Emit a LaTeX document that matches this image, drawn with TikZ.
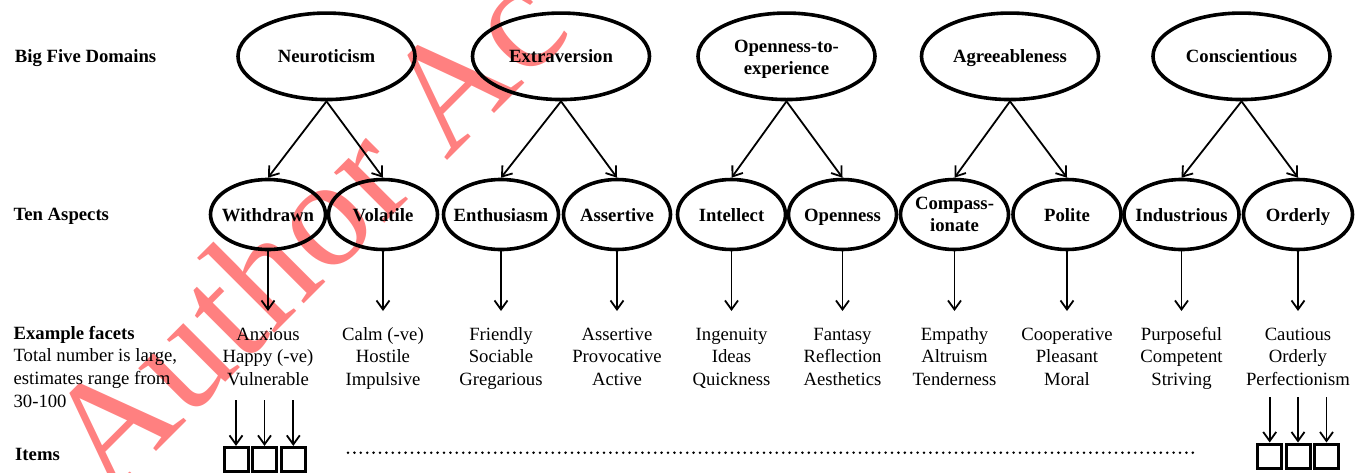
\documentclass[tikz,border=0pt]{standalone}
\usepackage{fontspec}
\setmainfont{Liberation Serif}
\usetikzlibrary{arrows.meta,shapes.geometric}
\definecolor{wmred}{RGB}{255,128,128}
\begin{document}
\begin{tikzpicture}[x=1pt,y=-1pt,
  dom/.style={ellipse, draw, line width=3.6pt, minimum width=177pt, minimum height=86.5pt, inner sep=0pt},
  asp/.style={ellipse, draw, line width=3.6pt, minimum height=70pt, inner sep=0pt},
  lbl/.style={font=\bfseries\fontsize{18.7}{22.6}\selectfont, inner sep=0pt, text height=13pt, text depth=0pt},
  lbltwo/.style={font=\bfseries\fontsize{18.7}{22.6}\selectfont, inner sep=0pt, align=center},
  side/.style={font=\bfseries\fontsize{18.7}{22.6}\selectfont, inner sep=0pt, anchor=base west},
  fac/.style={font=\fontsize{18.7}{22.6}\selectfont, align=center, inner xsep=0pt, inner ysep=13.2pt, anchor=north},
  arr/.style={line width=1.8pt, -{Straight Barb[length=9pt,width=13pt]}},
  itembox/.style={draw, line width=3pt, minimum width=24pt, minimum height=24pt, inner sep=0pt},
  wm/.style={text=wmred, font=\fontsize{155}{155}\selectfont, inner sep=0pt}
]
\useasboundingbox (0,0) rectangle (1371,472);
\clip (0,0) rectangle (1371,472);

% watermark
\node[wm, rotate=45, anchor=base west] (wmark) at (108,500) {Author Ac};

% side labels
\node[side] (lBig) at (14.7,62.7) {Big Five Domains};
\node[side] (lTen) at (13.4,220.7) {Ten Aspects};
\node[font=\fontsize{18.7}{22.6}\selectfont, align=left, inner sep=0pt, anchor=north west] (lEx) at (13.4,323.2)
  {\strut\textbf{Example facets}\\\strut Total number is large,\\\strut estimates range from\\\strut 30-100};
\node[side] (lItems) at (15,460) {Items};

% domains
\node[dom] (D1) at (326.5,56.3) {};
\node[dom] (D2) at (561,56.3) {};
\node[dom] (D3) at (786.5,56.3) {};
\node[dom] (D4) at (1010,56.3) {};
\node[dom] (D5) at (1241.5,56.3) {};
\node[lbl] (D1t) at (D1) {Neuroticism};
\node[lbl] (D2t) at (D2) {Extraversion};
\node[lbltwo] (D3t) at (786.5,59) {\strut Openness-to-\\\strut experience};
\node[lbl] (D4t) at (D4) {Agreeableness};
\node[lbl] (D5t) at (D5) {Conscientious};

% aspects
\node[asp, minimum width=115pt] (A1) at (268,214.5) {};
\node[asp, minimum width=109pt] (A2) at (383,214.5) {};
\node[asp, minimum width=115pt] (A3) at (501,214.5) {};
\node[asp, minimum width=107pt] (A4) at (617,214.5) {};
\node[asp, minimum width=108pt] (A5) at (731.5,214.5) {};
\node[asp, minimum width=108pt] (A6) at (842.5,214.5) {};
\node[asp, minimum width=108pt] (A7) at (954.5,214.5) {};
\node[asp, minimum width=108pt] (A8) at (1067,214.5) {};
\node[asp, minimum width=115pt] (A9) at (1181.5,214.5) {};
\node[asp, minimum width=109pt] (A10) at (1298,214.5) {};
\node[lbl] (A1t) at (A1) {Withdrawn};
\node[lbl] (A2t) at (A2) {Volatile};
\node[lbl] (A3t) at (A3) {Enthusiasm};
\node[lbl] (A4t) at (A4) {Assertive};
\node[lbl] (A5t) at (A5) {Intellect};
\node[lbl] (A6t) at (A6) {Openness};
\node[lbltwo] (A7t) at (954.5,216) {\strut Compass-\\\strut ionate};
\node[lbl] (A8t) at (A8) {Polite};
\node[lbl] (A9t) at (A9) {Industrious};
\node[lbl] (A10t) at (A10) {Orderly};

% domain -> aspect
\foreach \d/\a/\b in {D1/A1/A2, D2/A3/A4, D3/A5/A6, D4/A7/A8, D5/A9/A10}{
  \draw[arr] (\d.south) -- (\a.north);
  \draw[arr] (\d.south) -- (\b.north);
}

% facets
\node[fac] (F1) at (268,311) {\strut Anxious\\\strut Happy (-ve)\\\strut Vulnerable};
\node[fac] (F2) at (383,311) {\strut Calm (-ve)\\\strut Hostile\\\strut Impulsive};
\node[fac] (F3) at (501,311) {\strut Friendly\\\strut Sociable\\\strut Gregarious};
\node[fac] (F4) at (617,311) {\strut Assertive\\\strut Provocative\\\strut Active};
\node[fac] (F5) at (731.5,311) {\strut Ingenuity\\\strut Ideas\\\strut Quickness};
\node[fac] (F6) at (842.5,311) {\strut Fantasy\\\strut Reflection\\\strut Aesthetics};
\node[fac] (F7) at (954.5,311) {\strut Empathy\\\strut Altruism\\\strut Tenderness};
\node[fac] (F8) at (1067,311) {\strut Cooperative\\\strut Pleasant\\\strut Moral};
\node[fac] (F9) at (1181.5,311) {\strut Purposeful\\\strut Competent\\\strut Striving};
\node[fac] (F10) at (1298,311) {\strut Cautious\\\strut Orderly\\\strut Perfectionism};
\foreach \i in {1,...,10}{
  \draw[arr] (A\i.south) -- (F\i.north);
}

% items
\node[itembox] (B1) at (236,459.4) {};
\node[itembox] (B2) at (264.5,459.4) {};
\node[itembox] (B3) at (293.3,459.4) {};
\node[itembox] (B4) at (1269.7,456) {};
\node[itembox] (B5) at (1298,456) {};
\node[itembox] (B6) at (1326.5,456) {};
\coordinate (s1) at (236,400);
\coordinate (s2) at (264.5,400);
\coordinate (s3) at (293.3,400);
\coordinate (s4) at (1269.7,397);
\coordinate (s5) at (1298,397);
\coordinate (s6) at (1326.5,397);
\foreach \i in {1,...,6}{
  \draw[arr] (s\i) -- (B\i.north);
}

% dotted line
\coordinate (dl) at (348,452.7);
\coordinate (dr) at (1195,452.7);
\draw[line width=2.8pt, line cap=round, dash pattern=on 0pt off 6.4pt] (dl) -- (dr);
\end{tikzpicture}
\end{document}
